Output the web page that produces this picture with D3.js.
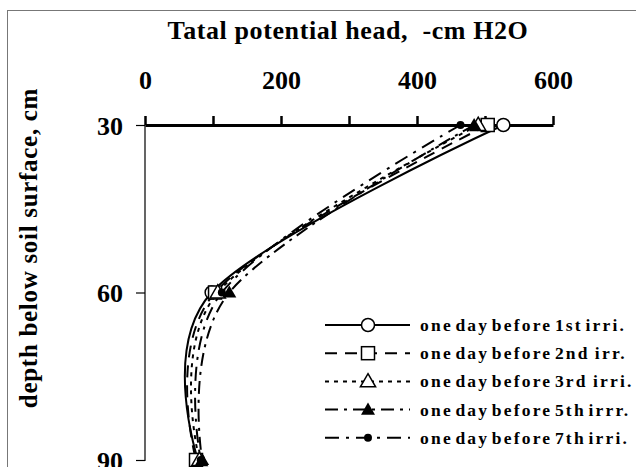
<!DOCTYPE html>
<html>
<head>
<meta charset="utf-8">
<script src="https://cdn.jsdelivr.net/npm/d3@7"></script>
<style>
  body { margin: 0; background: #fff; }
  svg { display: block; }
  text { font-family: "Liberation Serif", "Times New Roman", serif; font-weight: bold; fill: #000; }
</style>
</head>
<body>
<svg width="636" height="467"></svg>
<script>
// depths (cm) and potential head (-cm H2O) per irrigation
var depths = [30, 60, 90];
var irri1 = [527, 98, 78];
var irri2 = [504, 103, 75];
var irri3 = [490, 107, 80];
var irri5 = [484, 124, 84];
var irri7 = [464, 113, 82];
var xTicks = [0, 100, 200, 300, 400, 500, 600];
var xLabels = [0, 200, 400, 600];
var yTicks = [30, 60, 90];

var series = [
	{name: "one day before 1st irri.", values: irri1, dash: null, marker: "circleOpen"},
	{name: "one day before 2nd  irr.", values: irri2, dash: "12,8", marker: "square"},
	{name: "one day before 3rd  irri.", values: irri3, dash: "4,5", marker: "triangleOpen"},
	{name: "one day before 5th irrr.", values: irri5, dash: "13,6,3,6", marker: "triangle"},
	{name: "one day before 7th irri.", values: irri7, dash: "14,7,3,7", marker: "circle"}
];

var svg = d3.select("svg");

// outer frame
svg.append("rect")
	.attr("x", 7.5).attr("y", 10.5)
	.attr("width", 640).attr("height", 470)
	.attr("fill", "none").attr("stroke", "#777").attr("stroke-width", 1);

var xScale = d3.scaleLinear().domain([0, 600]).range([145, 553]);
var yScale = d3.scaleLinear().domain([30, 90]).range([125, 460]);

// y axis (thin, ticks outside)
var yAxis = d3.axisLeft(yScale).tickValues(yTicks).tickSize(9).tickFormat(d3.format("d"));
var gy = svg.append("g").attr("transform", "translate(" + xScale(0) + ",0)").call(yAxis);
gy.select(".domain").attr("stroke", "#000").attr("stroke-width", 1.2).attr("d", "M-9,125.5H0V460.5H-9");
gy.selectAll(".tick line").attr("stroke", "#000").attr("stroke-width", 1.2);
gy.selectAll(".tick text")
	.attr("x", -22).attr("dy", "0.36em")
	.style("font-size", "26px").style("font-family", "Liberation Serif").style("font-weight", "bold");

// x axis on top (thick)
var xAxis = d3.axisTop(xScale).tickValues(xTicks).tickSize(9).tickSizeOuter(0)
	.tickFormat(function(d) { return xLabels.indexOf(d) >= 0 ? d : ""; });
var gx = svg.append("g").attr("transform", "translate(0," + yScale(30) + ")").call(xAxis);
gx.select(".domain").attr("stroke", "#000").attr("stroke-width", 3);
gx.selectAll(".tick line").attr("stroke", "#000").attr("stroke-width", 2.5);
gx.selectAll(".tick text")
	.attr("y", -36)
	.style("font-size", "26px").style("font-family", "Liberation Serif").style("font-weight", "bold");

// axis titles
svg.append("text")
	.attr("x", 348).attr("y", 39)
	.attr("text-anchor", "middle")
	.style("font-size", "26px")
	.style("letter-spacing", "0.6px")
	.style("white-space", "pre")
	.text("Tatal potential head,  -cm H2O");

svg.append("text")
	.attr("transform", "translate(37,248) rotate(-90)")
	.attr("text-anchor", "middle")
	.style("font-size", "25px")
	.style("letter-spacing", "0.7px")
	.text("depth below soil surface, cm");

// curves
var line = d3.line()
	.x(function(d) { return xScale(d[0]); })
	.y(function(d) { return yScale(d[1]); })
	.curve(d3.curveCardinal.tension(0));

function drawMarker(g, type, x, y) {
	if (type == "circleOpen") {
		g.append("circle").attr("cx", x).attr("cy", y).attr("r", 6.5)
			.attr("fill", "#fff").attr("stroke", "#000").attr("stroke-width", 1.5);
	} else if (type == "square") {
		g.append("rect").attr("x", x - 6.5).attr("y", y - 6.5).attr("width", 13).attr("height", 13)
			.attr("fill", "#fff").attr("stroke", "#000").attr("stroke-width", 1.5);
	} else if (type == "triangleOpen") {
		g.append("path").attr("d", d3.symbol().type(d3.symbolTriangle).size(100)())
			.attr("transform", "translate(" + x + "," + (y + 1) + ")")
			.attr("fill", "#fff").attr("stroke", "#000").attr("stroke-width", 1.5);
	} else if (type == "triangle") {
		g.append("path").attr("d", d3.symbol().type(d3.symbolTriangle).size(85)())
			.attr("transform", "translate(" + x + "," + (y + 1) + ")")
			.attr("fill", "#000");
	} else {
		g.append("circle").attr("cx", x).attr("cy", y).attr("r", 4).attr("fill", "#000");
	}
}

var plot = svg.append("g");
series.forEach(function(s) {
	var pts = s.values.map(function(v, i) { return [v, depths[i]]; });
	plot.append("path")
		.datum(pts)
		.attr("d", line)
		.attr("fill", "none")
		.attr("stroke", "#000")
		.attr("stroke-width", 2)
		.attr("stroke-dasharray", s.dash);
});
series.forEach(function(s) {
	s.values.forEach(function(v, i) {
		drawMarker(plot, s.marker, xScale(v), yScale(depths[i]));
	});
});

// legend
var legend = svg.append("g").attr("transform", "translate(325,325)");
series.forEach(function(s, i) {
	var row = legend.append("g").attr("transform", "translate(0," + (i * 28.2) + ")");
	row.append("line")
		.attr("x1", 0).attr("x2", 85)
		.attr("stroke", "#000").attr("stroke-width", 2)
		.attr("stroke-dasharray", s.dash);
	drawMarker(row, s.marker, 43, 0);
	row.append("text")
		.attr("x", 95).attr("y", 6)
		.style("font-size", "17.5px")
		.style("letter-spacing", "2.2px")
		.style("word-spacing", "-4px")
		.style("white-space", "pre")
		.text(s.name);
});
</script>
</body>
</html>
